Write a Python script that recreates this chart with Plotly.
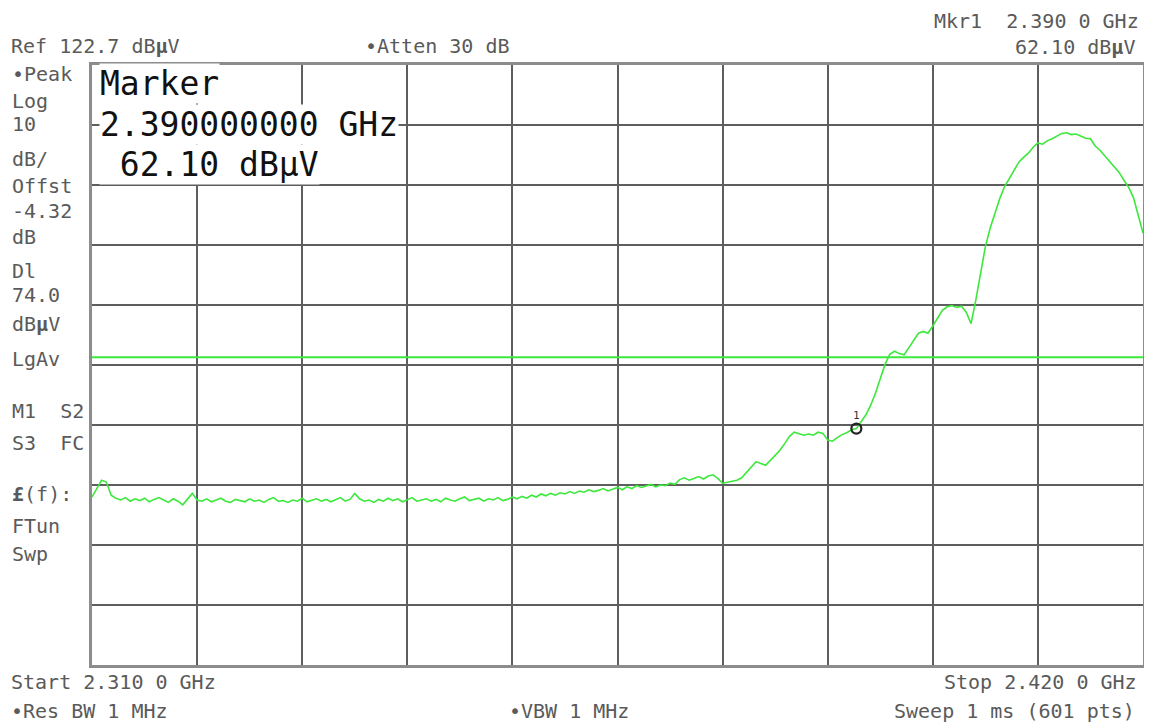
import numpy as np
import plotly.graph_objects as go

# ---------------- data ----------------
START_GHZ = 2.310
STOP_GHZ = 2.420
REF_LEVEL = 122.7          # dBuV, top of screen
DB_PER_DIV = 10
N_DIV = 10
DISPLAY_LINE = 74.0        # dBuV
MARKER_FREQ = 2.390        # GHz
MARKER_LEVEL = 62.10       # dBuV

# trace levels (dBuV), evenly spaced over the sweep
LEVELS = [
    50.7, 52.2, 53.5, 53.2, 51.0, 50.5, 50.2, 50.6, 50.0, 50.4,
    50.1, 50.5, 49.9, 50.3, 50.6, 50.2, 49.8, 50.4, 50.0, 49.4,
    50.3, 51.3, 50.2, 50.0, 50.4, 49.9, 50.2, 50.5, 50.0, 49.8,
    50.3, 50.1, 49.9, 50.4, 50.0, 50.2, 49.8, 50.3, 50.6, 50.0,
    50.1, 49.8, 50.2, 50.0, 50.5, 49.9, 50.2, 50.4, 50.0, 50.3,
    49.9, 50.2, 50.6, 50.0, 50.3, 51.3, 50.4, 50.0, 50.2, 49.8,
    50.3, 50.0, 50.5, 50.1, 50.4, 49.9, 50.3, 50.6, 50.0, 50.2,
    50.4, 50.0, 50.3, 49.9, 50.5, 50.2, 50.0, 50.4, 50.7, 50.1,
    50.3, 50.5, 50.0, 50.4, 50.2, 50.6, 50.1, 50.3, 50.7, 50.4,
    50.8, 50.5, 51.0, 50.7, 51.2, 50.9, 51.3, 51.0, 51.4, 51.2,
    51.6, 51.3, 51.7, 51.5, 51.9, 51.6, 51.8, 52.1, 51.7, 52.0,
    52.3, 51.9, 52.4, 52.1, 52.6, 52.3, 52.5, 52.8, 52.4, 52.7,
    52.6, 53.0, 52.8, 53.6, 53.9, 53.5, 53.8, 54.1, 53.7, 54.2,
    54.4, 53.8, 53.0, 53.2, 53.4, 53.5, 53.9, 54.8, 55.8, 56.6,
    56.3, 56.0, 56.8, 57.6, 58.5, 59.6, 60.8, 61.5, 61.2, 61.0,
    61.2, 61.0, 61.5, 61.3, 60.2, 60.0, 60.6, 61.1, 61.4, 61.9,
    62.1, 63.2, 64.4, 66.0, 68.0, 70.4, 72.8, 74.5, 75.0, 74.6,
    74.4, 75.6, 76.8, 78.0, 78.3, 78.0, 79.2, 80.5, 81.8, 82.4,
    82.6, 82.3, 82.5, 81.5, 79.6, 83.5, 88.0, 92.4, 95.5, 98.0,
    100.4, 102.4, 103.8, 105.0, 106.5, 107.3, 108.0, 109.0, 109.7, 109.5,
    110.1, 110.4, 110.8, 111.3, 111.4, 111.1, 111.2, 110.8, 110.5, 110.4,
    109.2, 108.5, 107.6, 106.6, 105.8, 104.8, 103.5, 102.3, 100.6, 97.8,
    94.7,
]

LEFT_LABELS = ["•Peak", "Log", "10", "dB/", "Offst", "-4.32", "dB",
               "Dl", "74.0", "dB<b>µ</b>V", "LgAv",
               "M1\u00a0\u00a0S2", "S3\u00a0\u00a0FC",
               "<b>£</b>(f):", "FTun", "Swp"]

HEADER_LEFT = "Ref 122.7 dB<b>µ</b>V"
HEADER_MID = "•Atten 30 dB"
HEADER_MKR = "Mkr1\u00a0\u00a02.390 0 GHz"
HEADER_MKR_LVL = "62.10 dB<b>µ</b>V"
FOOT_START = "Start 2.310 0 GHz"
FOOT_STOP = "Stop 2.420 0 GHz"
FOOT_RBW = "•Res BW 1 MHz"
FOOT_VBW = "•VBW 1 MHz"
FOOT_SWEEP = "Sweep 1 ms (601 pts)"
MARKER_BOX = ["Marker", "2.390000000 GHz", "\u00a062.10 dBµV"]

FREQ = np.linspace(START_GHZ, STOP_GHZ, len(LEVELS))

# ---------------- layout / styling ----------------
# the page body has an 8px default margin, so the figure is drawn 8px smaller
# and all screen positions below are given in window pixels minus that offset
OFF = 8
W, H = 1152 - OFF, 726 - OFF
ML, MT = 92 - OFF, 65 - OFF
PW, PH = 1054, 600
MR, MB = W - ML - PW, H - MT - PH

TRACE_GREEN = "#3be83b"
GRID = "#5e5e5e"
FRAME = "#8c8c8c"
TXT = "#5a5a5a"
MONO = "DejaVu Sans Mono, Liberation Mono, monospace"


def px(x):
    return (x - OFF - ML) / PW


def py(y):
    return 1 - (y - OFF - MT) / PH


fig = go.Figure()

fig.add_trace(go.Scatter(
    x=[START_GHZ, STOP_GHZ], y=[DISPLAY_LINE, DISPLAY_LINE],
    mode="lines", line=dict(color=TRACE_GREEN, width=2),
    hoverinfo="skip", showlegend=False))

fig.add_trace(go.Scatter(
    x=FREQ, y=LEVELS, mode="lines",
    line=dict(color=TRACE_GREEN, width=1.6),
    showlegend=False))

fig.add_trace(go.Scatter(
    x=[MARKER_FREQ], y=[MARKER_LEVEL], mode="markers+text",
    marker=dict(symbol="circle-open", size=10, color="#222222",
                line=dict(width=2.2, color="#222222")),
    text=["1"], textposition="top center",
    textfont=dict(family=MONO, size=11, color="#333333"),
    showlegend=False))

axis_common = dict(showgrid=True, gridcolor=GRID, gridwidth=2,
                   showticklabels=False, ticks="", zeroline=False,
                   showline=True, linecolor=FRAME, linewidth=3,
                   mirror=True, fixedrange=True)

fig.update_xaxes(range=[START_GHZ, STOP_GHZ], tick0=START_GHZ,
                 dtick=(STOP_GHZ - START_GHZ) / N_DIV, **axis_common)
fig.update_yaxes(range=[REF_LEVEL - DB_PER_DIV * N_DIV, REF_LEVEL],
                 tick0=REF_LEVEL, dtick=DB_PER_DIV, **axis_common)

annotations = []


def label(text, x, y, anchor="left", size=20, color=TXT, **kw):
    annotations.append(dict(
        text=text, x=px(x), y=py(y), xref="paper", yref="paper",
        xanchor=anchor, yanchor="middle", showarrow=False,
        font=dict(family=MONO, size=size, color=color), **kw))


left_y = [74, 101, 124, 159, 186, 211, 237, 271, 295, 324, 359,
          411, 443, 494, 526, 554]
for t, y in zip(LEFT_LABELS, left_y):
    label(t, 10, y)

label(HEADER_LEFT, 9, 46)
label(HEADER_MID, 364, 46)
label(HEADER_MKR, 1144, 21, anchor="right")
label(HEADER_MKR_LVL, 1140, 47, anchor="right")
label(FOOT_START, 9, 682)
label(FOOT_STOP, 1142, 682, anchor="right")
label(FOOT_RBW, 9, 711)
label(FOOT_VBW, 508, 711)
label(FOOT_SWEEP, 1140, 711, anchor="right")

for t, y in zip(MARKER_BOX, [84, 125, 165]):
    label(t, 99, y, size=33, color="#111111", bgcolor="white", borderpad=0)

fig.update_layout(
    width=W, height=H,
    margin=dict(l=ML, r=MR, t=MT, b=MB, pad=0),
    paper_bgcolor="white", plot_bgcolor="white",
    annotations=annotations,
    showlegend=False,
)

fig.write_html("out.html")
